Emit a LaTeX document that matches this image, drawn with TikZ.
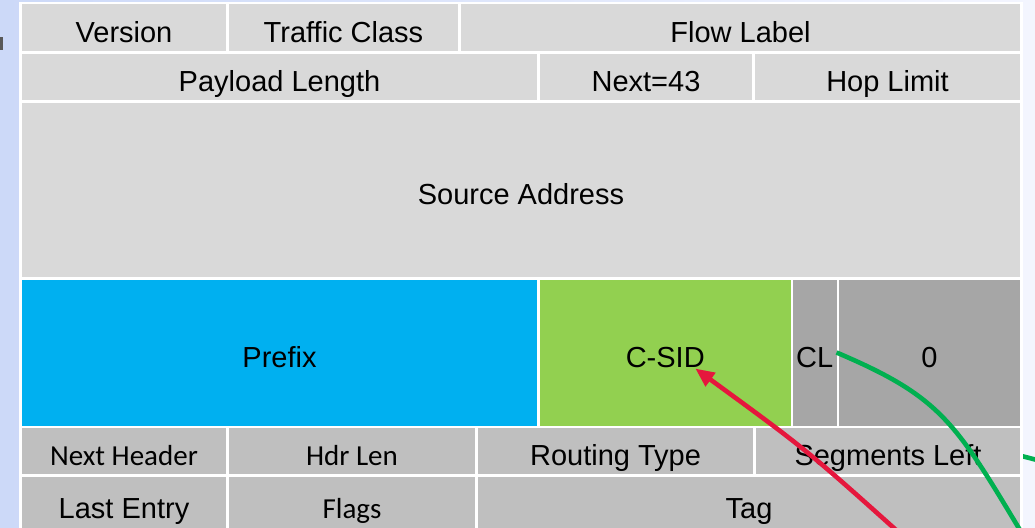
\documentclass[tikz,border=0pt]{standalone}
\usepackage{fontspec}
\setmainfont{Liberation Sans}
\newfontfamily\calibrifont{Carlito}
\usetikzlibrary{arrows.meta,calc}

\definecolor{ipgray}{HTML}{D9D9D9}
\definecolor{srhgray}{HTML}{BFBFBF}
\definecolor{darkcell}{HTML}{A6A6A6}
\definecolor{prefixblue}{HTML}{00B0F0}
\definecolor{csidgreen}{HTML}{92D050}
\definecolor{pointred}{HTML}{E5173D}
\definecolor{pointgreen}{HTML}{00B050}
\definecolor{bgleft}{HTML}{CCD9F8}
\definecolor{bgright}{HTML}{F3F5FE}

% one header field: name, fill, x1, y1, x2, y2, text
\newcommand\field[7]{%
  \node[cell,fill=#2,minimum width={#5pt-#3pt},minimum height={#6pt-#4pt}]
    (#1) at ({(#3+#5)/2},{(#4+#6)/2}) {#7};}

\begin{document}
\begin{tikzpicture}[x=1pt,y=-1pt,
  cell/.style={inner sep=0pt,outer sep=0pt,text height=31pt,text depth=2pt,
    font=\fontsize{29}{34}\selectfont},
  pointer/.style={line width=4.6pt},
]
\useasboundingbox (0,0) rectangle (1035,527);
\clip (0,0) rectangle (1035,527);

% slide background
\shade[left color=bgleft,right color=bgright] (0,0) rectangle (1035,527);
\fill[black!65] (0,37) rectangle (3,50);

% a pointer entering from the right, passing behind the table
\coordinate (rightin) at (1045,462);
\coordinate (rightbehind) at (990,448);
\draw[pointer,pointgreen] (rightbehind) -- (rightin);

% table frame
\fill[white] (19,2.5) rectangle (1023,530);

% IPv6 header
\field{version}{ipgray}{22}{4.5}{226}{51.5}{Version}
\field{tclass}{ipgray}{229}{4.5}{458}{51.5}{Traffic Class}
\field{flow}{ipgray}{461}{4.5}{1020}{51.5}{Flow Label}
\field{paylen}{ipgray}{22}{54}{537}{100}{Payload Length}
\field{nexthop}{ipgray}{540}{54}{752}{100}{Next=43}
\field{hoplimit}{ipgray}{755}{54}{1020}{100}{Hop Limit}
\field{src}{ipgray}{22}{102.5}{1020}{277}{Source Address}

% destination address
\field{prefix}{prefixblue}{22}{279.5}{537}{425.5}{Prefix}
\field{csid}{csidgreen}{540}{279.5}{790.5}{425.5}{C-SID}
\field{cl}{darkcell}{793}{279.5}{836.5}{425.5}{CL}
\field{zero}{darkcell}{839}{279.5}{1020}{425.5}{0}

% segment routing header
\field{nexthdr}{srhgray}{22}{428}{226}{474}{\calibrifont Next Header}
\field{hdrlen}{srhgray}{229}{428}{475}{474}{\calibrifont Hdr Len}
\field{rtype}{srhgray}{478}{428}{753}{474}{Routing Type}
\field{segleft}{srhgray}{756}{428}{1020}{474}{Segments Left}
\field{lastentry}{srhgray}{22}{477}{226}{530}{Last Entry}
\field{flags}{srhgray}{229}{477}{475}{530}{\calibrifont Flags}
\field{tag}{srhgray}{478}{477}{1020}{530}{Tag}

% pointers
\coordinate (csidtip) at ($(csid.center)+(30,16)$);
\coordinate (redfoot) at (915,547);
\draw[pointer,pointred,-{Triangle[length=19pt,width=16pt]}]
  (redfoot) .. controls (807,450) .. (csidtip);
\coordinate (greenfoot) at (1032,550);
\draw[pointer,pointgreen]
  (cl.east) .. controls (946,399) and (956,424) .. (greenfoot);
\end{tikzpicture}
\end{document}
